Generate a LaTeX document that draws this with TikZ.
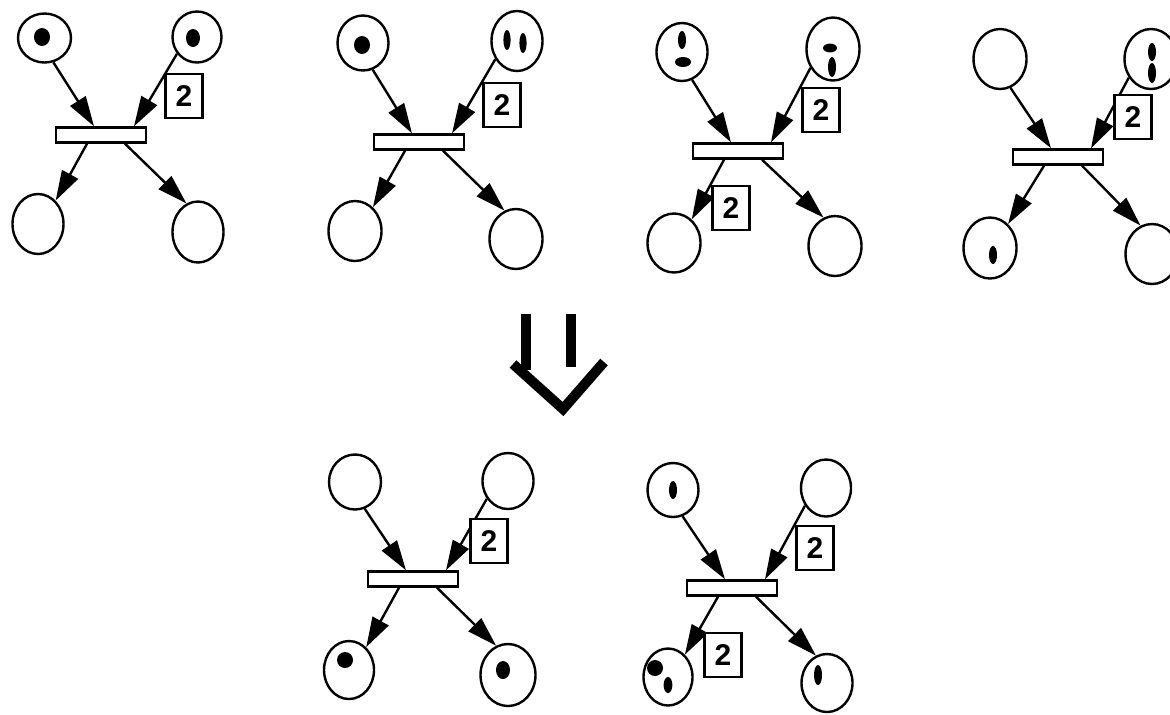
\documentclass[tikz,border=0pt]{standalone}
\usepackage{fontspec}
\setsansfont{Liberation Sans}
\usetikzlibrary{shapes.geometric,arrows.meta,calc}
\begin{document}
\begin{tikzpicture}[x=0.5pt,y=-0.5pt,
 pl/.style 2 args={ellipse,draw,line width=1.2pt,inner sep=0pt,minimum width=#1,minimum height=#2},
 trans/.style={rectangle,draw,fill=white,line width=1.2pt,inner sep=0pt,minimum width=45pt,minimum height=7.5pt},
 wt/.style={rectangle,draw,fill=white,line width=1.2pt,inner sep=0pt,minimum width=18.5pt,minimum height=22pt,font=\sffamily\bfseries\fontsize{15}{18}\selectfont},
 conn/.style={draw,line width=1.2pt,-{Triangle[length=15pt,width=9pt]}},
 dn/.style={line width=5pt}]
\useasboundingbox (0,0) rectangle (1170,714);
\clip (0,0) rectangle (1170,714);

% ---------- panel 1
\node[pl={26.5pt}{24.5pt}] (a1) at (44.5,38) {};
\node[pl={24.5pt}{25.5pt}] (b1) at (197,37) {};
\node[pl={25.5pt}{30pt}] (c1) at (38,224) {};
\node[pl={25.5pt}{30.5pt}] (d1) at (198,232) {};
\node[trans] (t1) at (101,135) {};
\draw[conn] (a1.-70) -- ($(t1.north)+(-7,0)$);
\draw[conn] (b1.-140) -- ($(t1.north)+(33,0)$);
\draw[conn] ($(t1.south)+(-14,0)$) -- (c1.53);
\draw[conn] ($(t1.south)+(24,0)$) -- (d1.112);
\node[wt] (w1) at (184,96) {2};
\fill (42,37) ellipse [x radius=4pt, y radius=4.5pt];
\fill (193,38) ellipse [x radius=3.5pt, y radius=4.5pt];

% ---------- panel 2
\node[pl={25.5pt}{27.5pt}] (a2) at (363,43) {};
\node[pl={25.5pt}{30pt}] (b2) at (517,41) {};
\node[pl={26.5pt}{30pt}] (c2) at (355,231) {};
\node[pl={26.5pt}{30pt}] (d2) at (516,239) {};
\node[trans] (t2) at (419,142) {};
\draw[conn] (a2.-70) -- ($(t2.north)+(-7,0)$);
\draw[conn] (b2.-140) -- ($(t2.north)+(33,0)$);
\draw[conn] ($(t2.south)+(-14,0)$) -- (c2.53);
\draw[conn] ($(t2.south)+(24,0)$) -- (d2.112);
\node[wt] (w2) at (502,105) {2};
\fill (362,45) ellipse [x radius=4pt, y radius=4.5pt];
\fill (507,40) ellipse [x radius=1.8pt, y radius=5pt];
\fill (523,43) ellipse [x radius=1.8pt, y radius=5pt];

% ---------- panel 3
\node[pl={25.5pt}{29pt}] (a3) at (682,52) {};
\node[pl={26.5pt}{31.5pt}] (b3) at (833,49) {};
\node[pl={26.5pt}{29.5pt}] (c3) at (674,243) {};
\node[pl={26.5pt}{30pt}] (d3) at (835,246) {};
\node[trans] (t3) at (738,151) {};
\draw[conn] (a3.-70) -- ($(t3.north)+(-7,0)$);
\draw[conn] (b3.-140) -- ($(t3.north)+(33,0)$);
\draw[conn] ($(t3.south)+(-14,0)$) -- (c3.53);
\draw[conn] ($(t3.south)+(24,0)$) -- (d3.112);
\node[wt] (w3) at (821,110) {2};
\node[wt] (v3) at (731,208) {2};
\fill (682,40) ellipse [x radius=2pt, y radius=4.5pt];
\fill (683,62) ellipse [x radius=4pt, y radius=2.5pt];
\fill (830,48) ellipse [x radius=3.5pt, y radius=2.2pt];
\fill (832,67) ellipse [x radius=2pt, y radius=5pt];

% ---------- panel 4
\node[pl={26.5pt}{30pt}] (a4) at (1000,59) {};
\node[pl={26.5pt}{30pt}] (b4) at (1151,59) {};
\node[pl={26.5pt}{30.5pt}] (c4) at (990,248) {};
\node[pl={26.5pt}{30pt}] (d4) at (1152,254) {};
\node[trans] (t4) at (1058,157) {};
\draw[conn] (a4.-70) -- ($(t4.north)+(-7,0)$);
\draw[conn] (b4.-140) -- ($(t4.north)+(33,0)$);
\draw[conn] ($(t4.south)+(-14,0)$) -- (c4.53);
\draw[conn] ($(t4.south)+(24,0)$) -- (d4.112);
\node[wt] (w4) at (1133,117) {2};
\fill (1152,52) ellipse [x radius=2pt, y radius=4.5pt];
\fill (1152,73) ellipse [x radius=2pt, y radius=5pt];
\fill (993,255) ellipse [x radius=2pt, y radius=4.5pt];

% ---------- transition arrow
\draw[dn] (525.5,314) -- (525.5,370);
\draw[dn] (570.5,314) -- (570.5,367);
\draw[dn] (513,364) -- (563,409) -- (604,362);

% ---------- panel 5
\node[pl={26pt}{27.5pt}] (a5) at (355,482) {};
\node[pl={25.5pt}{28pt}] (b5) at (508,481) {};
\node[pl={25pt}{29pt}] (c5) at (349,670) {};
\node[pl={27.5pt}{31pt}] (d5) at (508,675) {};
\node[trans] (t5) at (413,579) {};
\draw[conn] (a5.-70) -- ($(t5.north)+(-7,0)$);
\draw[conn] (b5.-140) -- ($(t5.north)+(33,0)$);
\draw[conn] ($(t5.south)+(-14,0)$) -- (c5.53);
\draw[conn] ($(t5.south)+(24,0)$) -- (d5.112);
\node[wt] (w5) at (489,541) {2};
\fill (345,660) ellipse [x radius=4pt, y radius=4pt];
\fill (503,670) ellipse [x radius=3.5pt, y radius=4.5pt];

% ---------- panel 6
\node[pl={25.5pt}{27pt}] (a6) at (673,490) {};
\node[pl={25pt}{28.5pt}] (b6) at (826,488) {};
\node[pl={24.5pt}{28.5pt}] (c6) at (668,677) {};
\node[pl={25.5pt}{29pt}] (d6) at (827,683) {};
\node[trans] (t6) at (732,588) {};
\draw[conn] (a6.-70) -- ($(t6.north)+(-7,0)$);
\draw[conn] (b6.-140) -- ($(t6.north)+(33,0)$);
\draw[conn] ($(t6.south)+(-14,0)$) -- (c6.53);
\draw[conn] ($(t6.south)+(24,0)$) -- (d6.112);
\node[wt] (w6) at (815,548) {2};
\node[wt] (v6) at (723,655) {2};
\fill (673,490) ellipse [x radius=2pt, y radius=4.5pt];
\fill (655,668) ellipse [x radius=4pt, y radius=4pt];
\fill (668,685) ellipse [x radius=2.2pt, y radius=4pt];
\fill (818,675) ellipse [x radius=2pt, y radius=5pt];
\end{tikzpicture}
\end{document}
